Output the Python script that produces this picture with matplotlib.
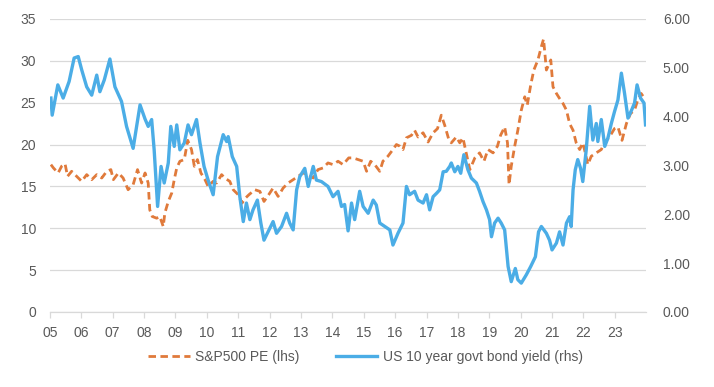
import matplotlib
matplotlib.use("Agg")
import matplotlib.pyplot as plt
from matplotlib.lines import Line2D

plt.rcParams['font.family'] = ['Liberation Sans Narrow', 'Liberation Sans', 'DejaVu Sans']

# ---- data (x = position on the chart's year axis) ----
yield_years = [2005.03, 2005.07, 2005.25, 2005.42, 2005.61, 2005.77, 2005.90, 2006.01, 2006.17, 2006.33,
               2006.49, 2006.59, 2006.73, 2006.91, 2007.07, 2007.28, 2007.44, 2007.65, 2007.87, 2008.03,
               2008.13, 2008.24, 2008.32, 2008.43, 2008.54, 2008.64, 2008.77, 2008.85, 2008.96, 2009.04,
               2009.14, 2009.28, 2009.40, 2009.51, 2009.67, 2009.78, 2009.91, 2010.04, 2010.20, 2010.34,
               2010.52, 2010.63, 2010.68, 2010.81, 2010.95, 2011.05, 2011.16, 2011.26, 2011.37, 2011.47,
               2011.61, 2011.72, 2011.82, 2011.95, 2012.11, 2012.22, 2012.38, 2012.54, 2012.64, 2012.75,
               2012.86, 2012.96, 2013.12, 2013.23, 2013.39, 2013.49, 2013.65, 2013.86, 2014.02, 2014.18,
               2014.29, 2014.39, 2014.50, 2014.61, 2014.71, 2014.87, 2014.98, 2015.14, 2015.30, 2015.40,
               2015.51, 2015.67, 2015.83, 2015.93, 2016.09, 2016.25, 2016.36, 2016.46, 2016.62, 2016.73,
               2016.89, 2017.00, 2017.10, 2017.21, 2017.32, 2017.42, 2017.53, 2017.63, 2017.74, 2017.79,
               2017.90, 2018.00, 2018.09, 2018.19, 2018.32, 2018.43, 2018.59, 2018.69, 2018.80, 2018.91,
               2019.01, 2019.07, 2019.17, 2019.28, 2019.38, 2019.49, 2019.60, 2019.70, 2019.83, 2019.91,
               2020.02, 2020.18, 2020.32, 2020.47, 2020.57, 2020.66, 2020.82, 2020.92, 2021.00, 2021.14,
               2021.24, 2021.35, 2021.46, 2021.56, 2021.61, 2021.67, 2021.74, 2021.82, 2021.91, 2021.98,
               2022.09, 2022.20, 2022.30, 2022.41, 2022.46, 2022.57, 2022.68, 2022.78, 2022.89, 2022.99,
               2023.10, 2023.21, 2023.31, 2023.42, 2023.54, 2023.63, 2023.71, 2023.82, 2023.93, 2023.98]
yield_values = [4.38, 4.03, 4.65, 4.38, 4.72, 5.20, 5.23, 4.96, 4.61, 4.44,
                4.85, 4.51, 4.75, 5.18, 4.61, 4.31, 3.80, 3.35, 4.24, 3.95,
                3.80, 3.94, 3.32, 2.16, 2.98, 2.64, 3.05, 3.80, 3.39, 3.83,
                3.32, 3.46, 3.83, 3.63, 3.94, 3.46, 2.98, 2.70, 2.40, 3.18,
                3.63, 3.49, 3.59, 3.18, 2.98, 2.36, 1.85, 2.23, 1.89, 2.09,
                2.29, 1.82, 1.47, 1.64, 1.85, 1.61, 1.75, 2.02, 1.82, 1.68,
                2.50, 2.77, 2.94, 2.57, 2.98, 2.70, 2.67, 2.57, 2.36, 2.47,
                2.16, 2.20, 1.66, 2.23, 1.89, 2.47, 2.16, 2.02, 2.29, 2.19,
                1.82, 1.75, 1.68, 1.37, 1.61, 1.82, 2.57, 2.40, 2.47, 2.29,
                2.23, 2.40, 2.09, 2.36, 2.43, 2.50, 2.87, 2.88, 2.98, 3.05,
                2.87, 2.98, 2.84, 3.22, 2.91, 2.74, 2.64, 2.47, 2.26, 2.09,
                1.89, 1.54, 1.82, 1.92, 1.82, 1.68, 0.93, 0.62, 0.89, 0.66,
                0.59, 0.76, 0.93, 1.13, 1.64, 1.75, 1.61, 1.47, 1.27, 1.41,
                1.64, 1.37, 1.82, 1.95, 1.75, 2.50, 2.91, 3.12, 2.94, 2.67,
                3.32, 4.21, 3.52, 3.86, 3.49, 3.94, 3.39, 3.56, 3.86, 4.10,
                4.34, 4.89, 4.48, 3.97, 4.14, 4.28, 4.65, 4.38, 4.28, 3.83]

pe_years = [2005.03, 2005.11, 2005.26, 2005.37, 2005.48, 2005.56, 2005.69, 2005.85, 2006.01, 2006.17,
            2006.33, 2006.49, 2006.65, 2006.81, 2006.94, 2007.02, 2007.18, 2007.33, 2007.49, 2007.65,
            2007.79, 2007.92, 2008.03, 2008.13, 2008.18, 2008.26, 2008.40, 2008.50, 2008.61, 2008.66,
            2008.77, 2008.88, 2008.96, 2009.04, 2009.14, 2009.28, 2009.39, 2009.51, 2009.60, 2009.70,
            2009.81, 2009.94, 2010.04, 2010.20, 2010.31, 2010.47, 2010.57, 2010.73, 2010.84, 2011.00,
            2011.12, 2011.23, 2011.34, 2011.53, 2011.69, 2011.82, 2011.97, 2012.11, 2012.27, 2012.43,
            2012.59, 2012.75, 2012.91, 2013.07, 2013.23, 2013.39, 2013.54, 2013.70, 2013.86, 2014.02,
            2014.18, 2014.34, 2014.52, 2014.66, 2014.82, 2014.98, 2015.09, 2015.22, 2015.35, 2015.51,
            2015.61, 2015.77, 2015.93, 2016.04, 2016.15, 2016.25, 2016.36, 2016.52, 2016.62, 2016.73,
            2016.89, 2017.05, 2017.21, 2017.35, 2017.47, 2017.58, 2017.71, 2017.79, 2017.95, 2018.06,
            2018.16, 2018.24, 2018.38, 2018.54, 2018.69, 2018.83, 2018.96, 2019.12, 2019.26, 2019.36,
            2019.49, 2019.58, 2019.63, 2019.70, 2019.81, 2019.91, 2020.02, 2020.13, 2020.21, 2020.32,
            2020.42, 2020.55, 2020.66, 2020.73, 2020.82, 2020.96, 2021.03, 2021.14, 2021.24, 2021.35,
            2021.46, 2021.56, 2021.67, 2021.77, 2021.88, 2021.98, 2022.06, 2022.14, 2022.25, 2022.41,
            2022.57, 2022.68, 2022.83, 2022.99, 2023.10, 2023.23, 2023.37, 2023.50, 2023.63, 2023.73,
            2023.84, 2023.95]
pe_values = [17.6, 17.2, 16.6, 17.4, 17.7, 16.2, 16.8, 16.2, 15.6, 16.4,
             15.8, 16.4, 16.0, 16.8, 17.0, 15.8, 16.6, 16.0, 14.6, 15.2,
             17.0, 15.4, 16.6, 15.4, 12.2, 11.4, 11.2, 11.4, 10.2, 11.8,
             13.2, 14.2, 15.8, 17.2, 18.0, 18.2, 20.5, 19.4, 17.4, 18.2,
             16.6, 15.8, 15.0, 15.6, 15.4, 16.4, 16.0, 15.6, 14.6, 14.0,
             13.0, 13.6, 14.0, 14.6, 14.4, 13.2, 14.0, 14.8, 13.8, 14.8,
             15.4, 15.8, 16.2, 16.6, 16.4, 16.0, 17.0, 17.2, 17.8, 17.6,
             18.0, 17.6, 18.4, 18.4, 18.2, 18.0, 16.8, 18.0, 17.6, 16.8,
             18.0, 18.6, 19.4, 20.0, 19.8, 19.4, 20.8, 21.1, 21.7, 20.9,
             21.4, 20.3, 21.4, 21.9, 23.5, 22.3, 20.6, 20.2, 20.9, 20.2,
             20.8, 19.4, 17.0, 18.4, 19.0, 18.0, 19.4, 19.0, 19.8, 21.1,
             22.1, 20.2, 15.2, 17.4, 19.8, 21.7, 24.1, 25.7, 24.7, 27.1,
             28.9, 30.1, 31.7, 32.6, 28.9, 30.1, 26.9, 26.1, 25.5, 24.9,
             24.1, 22.5, 21.7, 20.2, 19.4, 20.2, 19.0, 17.6, 18.6, 19.0,
             19.4, 20.3, 20.9, 21.9, 22.1, 20.5, 22.5, 23.7, 24.1, 25.3,
             26.1, 25.5]

year_ticks = list(range(2005, 2024))
year_labels = ['05', '06', '07', '08', '09', '10', '11', '12', '13', '14',
               '15', '16', '17', '18', '19', '20', '21', '22', '23']
left_ticks = [0, 5, 10, 15, 20, 25, 30, 35]
right_ticks = [0, 1, 2, 3, 4, 5, 6]

pe_label = 'S&P500 PE (lhs)'
yield_label = 'US 10 year govt bond yield (rhs)'

# ---- styling ----
ORANGE = '#E07A3B'
BLUE = '#4BADE6'
GRID = '#D9D9D9'
TXT = '#595959'

fig = plt.figure(figsize=(7.14, 3.87), dpi=100)
ax = fig.add_axes([0.070, 0.194, 0.835, 0.757])
ax2 = ax.twinx()

ax.plot(pe_years, pe_values, color=ORANGE, lw=2.0, linestyle=(0, (2.7, 1.6)),
        dash_capstyle='butt', zorder=3)
ax2.plot(yield_years, yield_values, color=BLUE, lw=2.4, solid_joinstyle='round', zorder=3)

ax.set_xlim(2005, 2024)
ax.set_ylim(0, 35)
ax2.set_ylim(0, 6)

ax.set_yticks(left_ticks)
ax.set_yticklabels([str(v) for v in left_ticks])
ax2.set_yticks(right_ticks)
ax2.set_yticklabels([f'{v:.2f}' for v in right_ticks])
ax.set_xticks(year_ticks)
ax.set_xticklabels(year_labels)

ax.grid(axis='y', color=GRID, lw=0.9, zorder=0)
ax.set_axisbelow(True)

for a in (ax, ax2):
    for s in ('top', 'left', 'right', 'bottom'):
        a.spines[s].set_visible(False)
ax.spines['bottom'].set_visible(True)
ax.spines['bottom'].set_color(GRID)
ax.spines['bottom'].set_linewidth(0.9)

ax.tick_params(axis='x', length=4, width=0.9, color=GRID, labelcolor=TXT, labelsize=10, pad=6)
ax.tick_params(axis='y', length=0, labelcolor=TXT, labelsize=10, pad=10)
ax2.tick_params(axis='y', length=0, labelcolor=TXT, labelsize=10, pad=12)

handles = [Line2D([], [], color=ORANGE, lw=2.0, linestyle=(0, (2.7, 1.6))),
           Line2D([], [], color=BLUE, lw=2.4)]
fig.legend(handles, [pe_label, yield_label], loc='center', bbox_to_anchor=(0.512, 0.077),
           ncol=2, frameon=False, fontsize=10, labelcolor=TXT, handlelength=3.0,
           columnspacing=2.6, handletextpad=0.4)

fig.savefig('out.png', dpi=100)
